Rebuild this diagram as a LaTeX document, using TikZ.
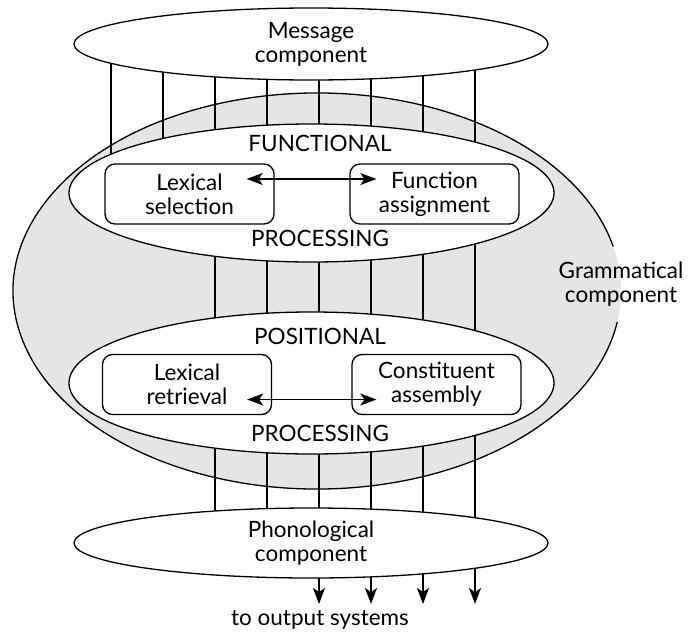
\documentclass[tikz,border=0pt]{standalone}
\usepackage{fontspec}
\setmainfont{Lato}
\usetikzlibrary{shapes.geometric,positioning,arrows.meta,calc}
\tikzset{
  compellipse/.style={ellipse,draw,fill=white,line width=1.3pt,inner sep=0pt,align=center},
  procbox/.style={draw,fill=white,rounded corners=10pt,line width=1.3pt,minimum width=169pt,minimum height=60pt,align=center,inner sep=0pt},
  bar/.style={line width=1.3pt},
  tagtext/.style={inner sep=0pt},
  dblarrow/.style={line width=1.4pt,{Stealth[length=16pt,width=12pt,inset=4pt]}-{Stealth[length=16pt,width=12pt,inset=4pt]}},
  outarrow/.style={line width=1.4pt,-{Stealth[length=16pt,width=12pt,inset=4pt]}},
}

\begin{document}
\begin{tikzpicture}[x=1pt,y=-1pt,font=\fontsize{22.5}{24}\selectfont]
\useasboundingbox (0,0) rectangle (688,632);

% centres of the big shapes
\coordinate (msgc) at (311,44);
\coordinate (gramc) at (317,291);
\coordinate (funcc) at (311.5,193);
\coordinate (posc) at (311.5,383);
\coordinate (phonc) at (311,543);
\coordinate (outend) at (0,604);
\foreach \x [count=\i] in {111,163,215,267,319,371,423,475}
  \coordinate (col\i) at (\x,0);

% grammatical component
\fill[gray!20] (gramc) ellipse [x radius=304, y radius=198];
\draw[bar] ($(gramc)+(13:304pt and 198pt)$)
  arc[start angle=13, end angle=351, x radius=304pt, y radius=198pt];
\node[tagtext,align=center] (gram) at (621,284) {Grammatical\\component};

% connections
\foreach \i in {1,...,8} \draw[bar] (col\i |- msgc) -- (col\i |- funcc);
\foreach \i in {3,...,8} \draw[bar] (col\i |- funcc) -- (col\i |- posc);
\foreach \i in {3,...,8} \draw[bar] (col\i |- posc) -- (col\i |- phonc);
\foreach \i in {5,...,8} \draw[outarrow] (col\i |- phonc) -- (col\i |- outend);

% components
\node[compellipse,minimum width=474pt,minimum height=72pt] (msg) at (msgc) {Message\\component};
\node[compellipse,minimum width=485pt,minimum height=138pt] (func) at (funcc) {};
\node[compellipse,minimum width=485pt,minimum height=142pt] (pos) at (posc) {};
\node[compellipse,minimum width=474pt,minimum height=70pt] (phon) at (phonc) {Phonological\\component};

\node[tagtext] (functag) at (320,143) {FUNCTIONAL};
\node[tagtext] (proctag1) at (320,238) {PROCESSING};
\node[tagtext] (postag) at (320,336) {POSITIONAL};
\node[tagtext] (proctag2) at (320,433) {PROCESSING};

\node[procbox] (lexsel) at (189.5,194) {Lexical\\selection};
\node[procbox] (funass) at (434.5,194) {Function\\assignment};
\node[procbox] (lexret) at (187,384.5) {Lexical\\retrieval};
\node[procbox] (conass) at (436.5,384.5) {Constituent\\assembly};

\draw[dblarrow] ($(lexsel.east)+(-28,-15)$) -- ($(funass.west)+(27,-15)$);
\draw[dblarrow] ($(lexret.east)+(-25,15)$) -- ($(conass.west)+(25,15)$);

\node[tagtext] (out) at (320,620) {to output systems};

\end{tikzpicture}
\end{document}
